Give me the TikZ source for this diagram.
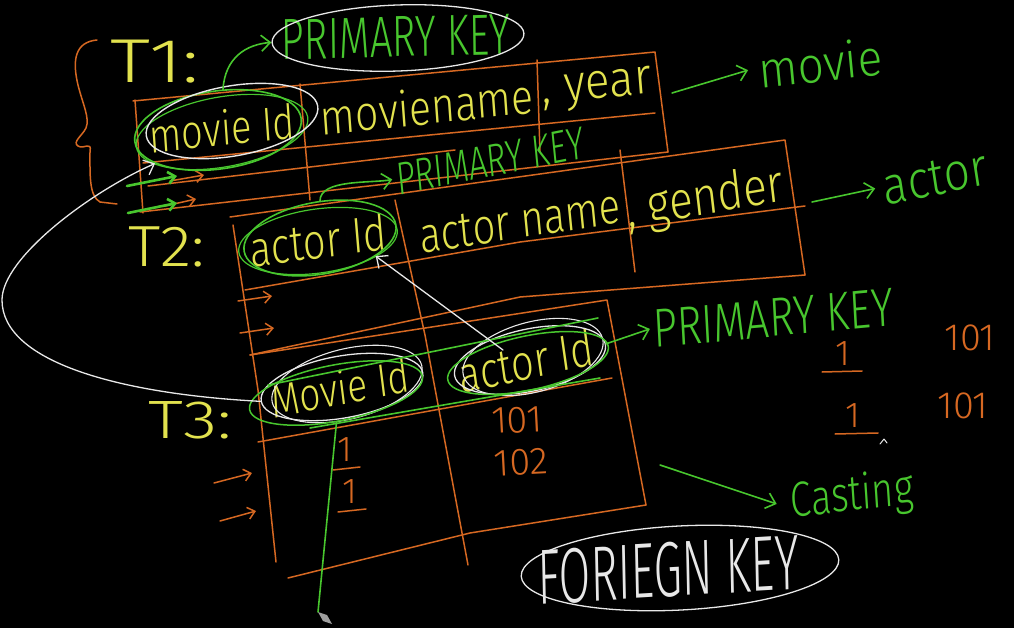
\documentclass[tikz,border=0pt]{standalone}
\usepackage{fontspec}
\setmainfont{Fira Sans Light}
\usetikzlibrary{shapes.geometric,arrows.meta}
\definecolor{hy}{RGB}{226,226,78}
\definecolor{hg}{RGB}{72,198,46}
\definecolor{ho}{RGB}{214,104,34}
\definecolor{hw}{RGB}{232,232,232}
\begin{document}
\begin{tikzpicture}[x=1pt,y=-1pt,line cap=round,line join=round,
  tb/.style={draw=ho,line width=1.5pt},
  gl/.style={draw=hg,line width=1.6pt},
  wl/.style={draw=hw,line width=1.3pt},
  barb/.style={-{Straight Barb[length=9pt,width=16pt]}},
  sbarb/.style={-{Straight Barb[length=7pt,width=12pt]}},
  ring/.style={ellipse,inner sep=0pt},
  lab/.style={inner sep=0pt},
  fs/.style={font=\fontsize{#1}{#1}\selectfont},
]
\fill[black] (0,0) rectangle (1014,628);
\useasboundingbox (0,0) rectangle (1014,628);

% ---------- brace ----------
\draw[tb] (97,40) .. controls (75,42) and (72,60) .. (78,85)
  .. controls (83,105) and (90,118) .. (86,128)
  .. controls (82,136) and (72,142) .. (78,146)
  .. controls (84,150) and (92,140) .. (90,152)
  .. controls (90,175) and (89,196) .. (100,202) -- (117,204);

% ---------- T1 table ----------
\draw[tb] (133,101) -- (655,52) -- (668,152);
\draw[tb] (135,100) -- (143,213);
\draw[tb] (143,163) -- (655,113);
\draw[tb] (148,186) -- (455,150);
\draw[tb] (140,212) -- (668,152);
\draw[tb] (300,84) -- (310,200);
\draw[tb] (537,60) -- (540,152);

% ---------- T2 table ----------
\draw[tb] (230,217) -- (785,140) -- (805,275);
\draw[tb] (245,290) -- (520,242) -- (805,206);
\draw[tb] (250,355) -- (520,297) -- (805,275);
\draw[tb] (233,225) -- (258,390) -- (276,562);
\draw[tb] (395,200) -- (425,335) -- (468,565);
\draw[tb] (620,150) -- (635,272);

% ---------- T3 table ----------
\draw[tb] (250,355) -- (607,300) -- (646,505);
\draw[tb] (258,442) -- (612,378);
\draw[tb] (288,578) -- (470,533) -- (646,505);

% ---------- row arrows ----------
\draw[tb,sbarb] (170,181) -- (204,175);
\draw[tb,sbarb] (165,206) -- (196,199);
\draw[gl,line width=2.6pt,sbarb] (127,186) -- (177,176);
\draw[gl,line width=2.6pt,sbarb] (128,213) -- (177,203);
\draw[tb,sbarb] (238,301) -- (272,296);
\draw[tb,sbarb] (240,333) -- (274,328);
\draw[tb,sbarb] (214,483) -- (252,473);
\draw[tb,sbarb] (220,521) -- (256,511);

% ---------- T1 texts ----------
\node[lab,fs=62,xscale=1.3,text=hy] (t1) at (155,62) {T1:};
\node[lab,fs=40,yscale=1.45,text=hg,rotate=1] (pk1) at (396,37) {PRIMARY KEY};
\node[ring,draw=hw,line width=1.3pt,minimum width=252pt,minimum height=66pt,rotate=2] (pk1r) at (398,38) {};
\node[lab,fs=38,yscale=1.25,text=hy,rotate=5] (m1) at (222,128) {movie Id};
\node[ring,draw=hg,line width=1.6pt,minimum width=168pt,minimum height=78pt,rotate=8] (m1g) at (218,130) {};
\node[ring,draw=hg,line width=1.2pt,minimum width=174pt,minimum height=70pt,rotate=10] (m1g2) at (222,132) {};
\node[ring,draw=hw,line width=1.4pt,minimum width=174pt,minimum height=70pt,rotate=10] (m1w) at (232,121) {};
\node[lab,fs=41,yscale=1.2,text=hy,rotate=5] (mn) at (427,106) {moviename};
\node[lab,fs=46,yscale=1.1,text=hy,rotate=5] (yr) at (597,90) {, year};
\node[lab,fs=46,yscale=1.1,text=hg,rotate=6] (mv) at (820,63) {movie};

% ---------- T2 texts ----------
\node[lab,fs=58,xscale=1.12,text=hy] (t2) at (167,247) {T2:};
\node[lab,fs=33,yscale=1.4,text=hg,rotate=8] (pk2) at (490,161) {PRIMARY KEY};
\node[lab,fs=40,yscale=1.25,text=hy,rotate=6] (a2) at (318,240) {actor Id};
\node[ring,draw=hg,line width=1.6pt,minimum width=154pt,minimum height=72pt,rotate=10] (a2g) at (320,238) {};
\node[ring,draw=hg,line width=1.2pt,minimum width=160pt,minimum height=64pt,rotate=8] (a2g2) at (318,241) {};
\node[lab,fs=40,yscale=1.25,text=hy,rotate=7] (an) at (520,222) {actor name};
\node[lab,fs=44,yscale=1.2,text=hy,rotate=8] (gd) at (705,200) {, gender};
\node[lab,fs=46,yscale=1.15,text=hg,rotate=10] (ac) at (935,178) {actor};

% ---------- T3 texts ----------
\node[lab,fs=54,xscale=1.3,text=hy] (t3) at (190,420) {T3:};
\node[lab,fs=37,yscale=1.25,text=hy,rotate=9] (m3) at (340,388) {Movie Id};
\node[ring,draw=hw,line width=1.3pt,minimum width=164pt,minimum height=62pt,rotate=10] (m3w) at (342,387) {};
\node[ring,draw=hw,line width=1.1pt,minimum width=154pt,minimum height=70pt,rotate=14] (m3w2) at (347,384) {};
\node[ring,draw=hg,line width=1.5pt,minimum width=176pt,minimum height=56pt,rotate=11] (m3g) at (336,393) {};
\node[lab,fs=40,yscale=1.25,text=hy,rotate=10] (a3) at (526,361) {actor Id};
\node[ring,draw=hw,line width=1.3pt,minimum width=154pt,minimum height=62pt,rotate=12] (a3w) at (530,360) {};
\node[ring,draw=hw,line width=1.1pt,minimum width=144pt,minimum height=70pt,rotate=15] (a3w2) at (533,357) {};
\node[ring,draw=hg,line width=1.5pt,minimum width=164pt,minimum height=54pt,rotate=12] (a3g) at (528,363) {};
\draw[gl] (268,385) -- (598,318);
\draw[gl] (310,428) -- (600,378);

\node[lab,fs=36,text=ho] (d11) at (345,450) {1};
\draw[tb] (333,470) -- (360,467);
\node[lab,fs=36,text=ho] (d12) at (350,492) {1};
\draw[tb] (338,512) -- (366,509);
\node[lab,fs=38,text=ho,rotate=3] (d21) at (517,420) {101};
\node[lab,fs=38,text=ho,rotate=3] (d22) at (521,462) {102};

\node[lab,fs=42,yscale=1.3,text=hg,rotate=4] (pk3) at (773,318) {PRIMARY KEY};
\node[lab,fs=36,text=ho] (r11) at (843,354) {1};
\draw[tb] (822,372) -- (862,371);
\node[lab,fs=38,text=ho] (r12) at (970,338) {101};
\node[lab,fs=36,text=ho] (r21) at (853,416) {1};
\draw[tb] (835,434) -- (878,433);
\node[lab,fs=38,text=ho] (r22) at (963,406) {101};
\draw[wl,line width=1pt] (880,444) -- (884,439) -- (887,443);

\node[lab,fs=38,yscale=1.3,text=hg,rotate=5] (cs) at (852,497) {Casting};
\node[lab,fs=46,yscale=1.7,text=hw,rotate=2] (fk) at (668,570) {FORIEGN KEY};
\node[ring,draw=hw,line width=1.3pt,minimum width=318pt,minimum height=84pt,rotate=3] (fkr) at (680,568) {};

% ---------- connectors ----------
\draw[gl,barb] (m1g.75) .. controls +(2,-32) and +(-25,2) .. (pk1r.west);
\draw[gl,barb] (a2g.80) .. controls +(0,-22) and +(-20,4) .. ([xshift=-4pt]pk2.west);
\coordinate (t1e) at (672,93);
\draw[gl,barb] (t1e) -- ([xshift=-10pt]mv.west);
\coordinate (t2e) at (812,202);
\draw[gl,barb] (t2e) -- ([xshift=-8pt]ac.west);
\draw[gl,barb] (a3w.east) -- ([xshift=-3pt]pk3.west);
\coordinate (t3e) at (660,465);
\draw[gl,barb] (t3e) -- ([xshift=-14pt]cs.west);
\coordinate (a3top) at (503,350);
\draw[wl,barb] (a3top) -- (a2g.-28);
\draw[wl,barb] (m3w.west) .. controls (120,394) and (2,362) .. (2,300)
  .. controls (2,258) and (90,192) .. (m1g.200);
\coordinate (pen) at (318,612);
\draw[gl] (m3g.-100) -- (pen);
\fill[gray!75] (pen) -- (327,615) -- (332,624) -- (323,621) -- cycle;
\end{tikzpicture}
\end{document}
